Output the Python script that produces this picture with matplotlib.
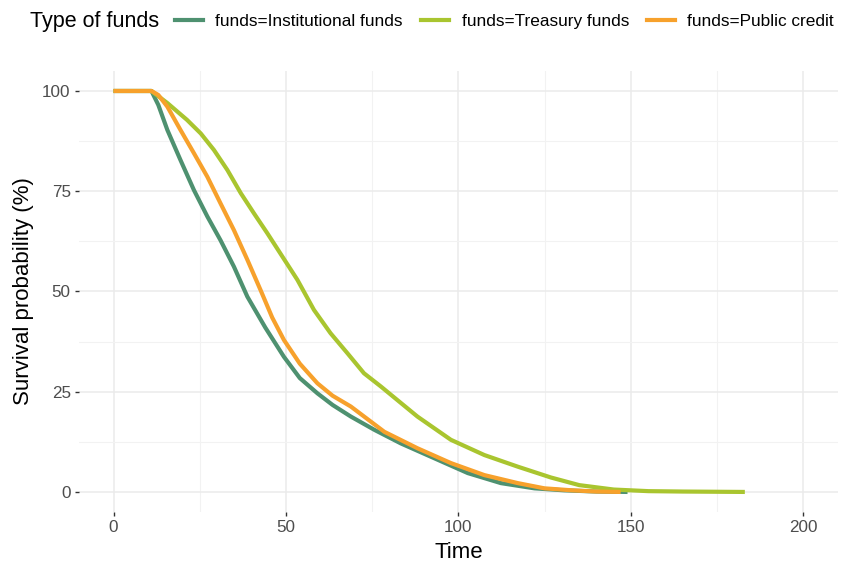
import matplotlib.pyplot as plt
from matplotlib.ticker import MultipleLocator
from matplotlib.lines import Line2D

# data (survival %, time)
inst_time = [0, 11, 13, 15.6, 19.4, 23.3, 27.2, 31, 34.9, 38.8, 44, 49.4, 54, 59.1,
             63.5, 68.8, 75.6, 83.3, 93, 102.7, 112.3, 122, 130.7, 140, 149]
inst_surv = [100, 100, 96.5, 90.3, 82.8, 75.3, 68.7, 62.8, 56.2, 48.7, 41, 33.7, 28.4, 24.6,
             21.7, 18.8, 15.5, 12.1, 8.4, 4.7, 2.2, 0.9, 0.4, 0.1, 0]

treas_time = [0, 11, 15.6, 21.3, 25.3, 29.1, 33, 36.9, 40.7, 44.6, 48.5, 53.3, 58.1,
              62.9, 67.8, 72.6, 77.5, 82.3, 88.1, 97.8, 107.5, 117.2, 126.8, 135,
              145, 155, 165, 183]
treas_surv = [100, 100, 97, 92.8, 89.4, 85.3, 80.3, 74.5, 69.5, 64.5, 59.3, 52.9, 45.4,
              39.6, 34.6, 29.6, 26.3, 22.9, 18.8, 13.0, 9.2, 6.3, 3.6, 1.7,
              0.6, 0.2, 0.1, 0]

pub_time = [0, 11, 13, 15.6, 19.4, 23.3, 27.2, 31, 34.9, 38.8, 42.7, 46, 49.4, 54, 59.1,
            63.5, 68.8, 78.5, 88.1, 97.8, 107.5, 117.2, 124.9, 133, 140, 147]
pub_surv = [100, 100, 99, 96.1, 90.3, 84.5, 78.6, 72.0, 65.3, 57.9, 50.2, 43.5, 37.9, 32, 27.1,
            24.0, 21.3, 15.0, 10.9, 7.2, 4.2, 2.2, 0.9, 0.4, 0.1, 0]

labels = ['funds=Institutional funds', 'funds=Treasury funds', 'funds=Public credit']
colors = ['#4E9170', '#A9C52F', '#F7A12C']

plt.rcParams['font.family'] = ['Liberation Sans', 'DejaVu Sans']

fig = plt.figure(figsize=(8.45, 5.63), dpi=100)
ax = fig.add_axes([0.0935, 0.0906, 0.8982, 0.7834])

series = [(inst_time, inst_surv), (treas_time, treas_surv), (pub_time, pub_surv)]
for (t, s), lab, col in zip(series, labels, colors):
    ax.plot(t, s, color=col, linewidth=3.0, label=lab, solid_capstyle='butt')

ax.set_xlim(-10, 210)
ax.set_ylim(-5, 105)
ax.xaxis.set_major_locator(MultipleLocator(50))
ax.xaxis.set_minor_locator(MultipleLocator(25))
ax.yaxis.set_major_locator(MultipleLocator(25))
ax.yaxis.set_minor_locator(MultipleLocator(12.5))

ax.grid(True, which='major', color='#EBEBEB', linewidth=1.1)
ax.grid(True, which='minor', color='#F2F2F2', linewidth=0.8)
ax.set_axisbelow(True)
for sp in ax.spines.values():
    sp.set_visible(False)

ax.tick_params(which='major', length=3, width=1.0, color='#333333',
               labelsize=12.3, labelcolor='#4D4D4D', pad=3)
ax.tick_params(which='minor', length=0)

ax.set_xlabel('Time', fontsize=16, color='black', labelpad=5)
ax.set_ylabel('Survival probability (%)', fontsize=16, color='black', labelpad=6)

# legend on top, title inline
fig.text(30 / 845, 1 - 21 / 563, 'Type of funds', fontsize=15.5, va='center', ha='left')
handles = [Line2D([], [], color=c, linewidth=3.0) for c in colors]
fig.legend(handles, labels, loc='center left', bbox_to_anchor=(175 / 845, 1 - 21 / 563),
           ncol=3, frameon=False, fontsize=12.4, handlelength=1.6, handletextpad=0.75,
           columnspacing=1.05, borderpad=0, borderaxespad=0)

fig.savefig('out.png', dpi=100)
